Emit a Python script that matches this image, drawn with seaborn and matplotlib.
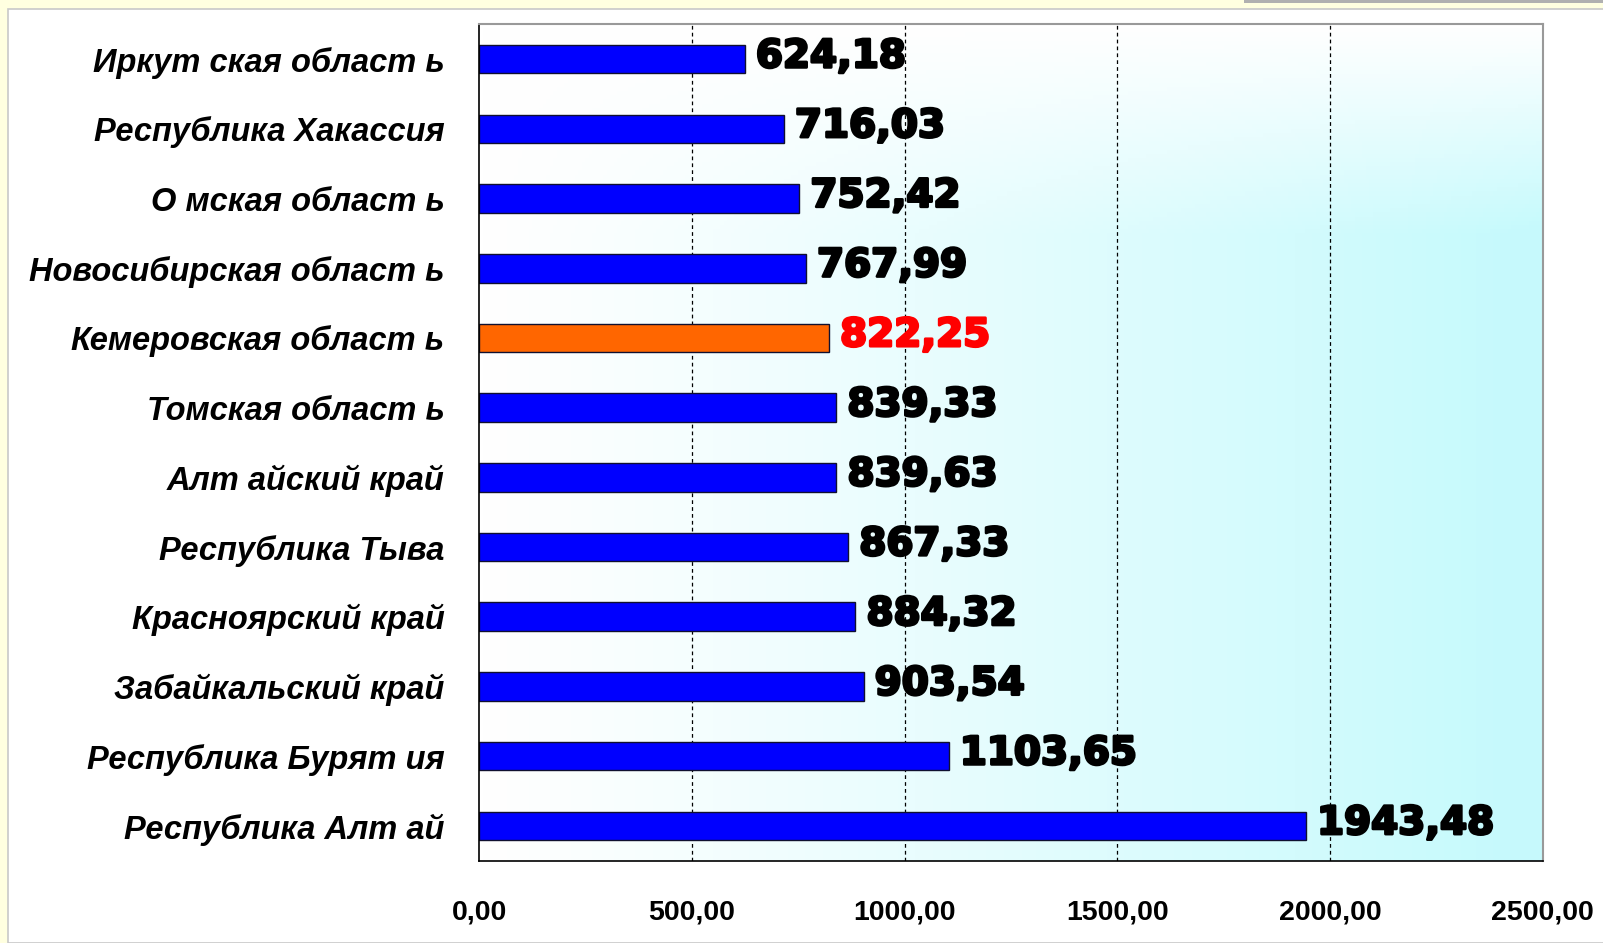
import numpy as np
import pandas as pd
import matplotlib
matplotlib.use("Agg")
import matplotlib.pyplot as plt
import matplotlib.patheffects as pe
import seaborn as sns

# dati
regioni = ["Иркут ская област ь", "Республика Хакассия", "О мская област ь",
           "Новосибирская област ь", "Кемеровская област ь", "Томская област ь",
           "Алт айский край", "Республика Тыва", "Красноярский край",
           "Забайкальский край", "Республика Бурят ия", "Республика Алт ай"]
valori = [624.18, 716.03, 752.42, 767.99, 822.25, 839.33,
          839.63, 867.33, 884.32, 903.54, 1103.65, 1943.48]
evidenziata = "Кемеровская област ь"
tick_x = [0, 500, 1000, 1500, 2000, 2500]

df = pd.DataFrame({"Регион": regioni, "Значение": valori})
colori = {r: ("#FF6600" if r == evidenziata else "#0000FF") for r in regioni}

sns.set_style("white")

fig = plt.figure(figsize=(16.03, 9.43), dpi=100)
fig.patch.set_facecolor("#FFFFE0")
# cornice bianca della slide
fig.add_artist(plt.Rectangle((8 / 1603, 0), 1, 1 - 9 / 943, transform=fig.transFigure,
                             facecolor="white", edgecolor="#C8C8C8", linewidth=1.2, zorder=0))
fig.add_artist(plt.Rectangle((1244 / 1603, 1 - 3 / 943), 1, 3 / 943, transform=fig.transFigure,
                             facecolor="#B0B0B0", edgecolor="none", zorder=0))

ax = fig.add_axes([479.3 / 1603, 1 - 860.7 / 943, (1542.7 - 479.3) / 1603, (860.7 - 24.3) / 943])

# sfondo sfumato bianco -> azzurro
xx, yy = np.meshgrid(np.linspace(0, 1, 300), np.linspace(0, 1, 200))
t = np.clip(xx ** 1.1 * np.clip(yy * 4.0, 0, 1) * 1.05, 0, 1)
bianco = np.array([1.0, 1.0, 1.0])
azzurro = np.array([0.78, 0.98, 0.99])
img = bianco[None, None, :] * (1 - t[..., None]) + azzurro[None, None, :] * t[..., None]
ax.imshow(img, extent=[0, 1, 0, 1], transform=ax.transAxes, aspect="auto", zorder=0)

sns.barplot(data=df, x="Значение", y="Регион", hue="Регион", palette=colori, legend=False,
            orient="h", width=0.41, saturation=1, edgecolor="#101030", linewidth=1.0,
            ax=ax, zorder=3)

ax.set_xlim(0, 2500)
ax.set_ylim(len(regioni) - 0.5, -0.5)
ax.set_xticks(tick_x)
ax.set_xticklabels([f"{v:.2f}".replace(".", ",") for v in tick_x],
                   fontsize=20.5, fontweight="bold", family="Liberation Sans", color="black")
ax.set_yticks(np.arange(len(regioni)))
ax.set_yticklabels(regioni, fontsize=23.5, fontweight="bold", fontstyle="italic",
                   family="Liberation Sans", color="black")
ax.set_xlabel("")
ax.set_ylabel("")

# tacche dell'asse y tra le categorie
ax.tick_params(axis="y", which="major", length=0, pad=25)
ax.set_yticks(np.arange(-0.5, len(regioni), 1), minor=True)
ax.tick_params(axis="y", which="minor", length=8, width=1, color="black", direction="out")
ax.tick_params(axis="x", length=8, width=1, color="black", direction="out", pad=20)

for x in tick_x[1:-1]:
    ax.axvline(x, color="black", linestyle=(0, (3, 2.5)), linewidth=0.9, zorder=2)

for s in ["left", "bottom"]:
    ax.spines[s].set_color("black")
    ax.spines[s].set_linewidth(1.2)
for s in ["top", "right"]:
    ax.spines[s].set_color("#999999")
    ax.spines[s].set_linewidth(1.5)
for s in ax.spines.values():
    s.set_zorder(5)

for i, (r, v) in enumerate(zip(regioni, valori)):
    col = "#FF0000" if r == evidenziata else "black"
    ax.text(v + 26, i - 0.04, f"{v:.2f}".replace(".", ","), va="center", ha="left",
            fontsize=28, fontweight="bold", family="DejaVu Sans", color=col, zorder=6,
            path_effects=[pe.withStroke(linewidth=2, foreground=col)])

fig.savefig("out.png", dpi=100, facecolor=fig.get_facecolor())
